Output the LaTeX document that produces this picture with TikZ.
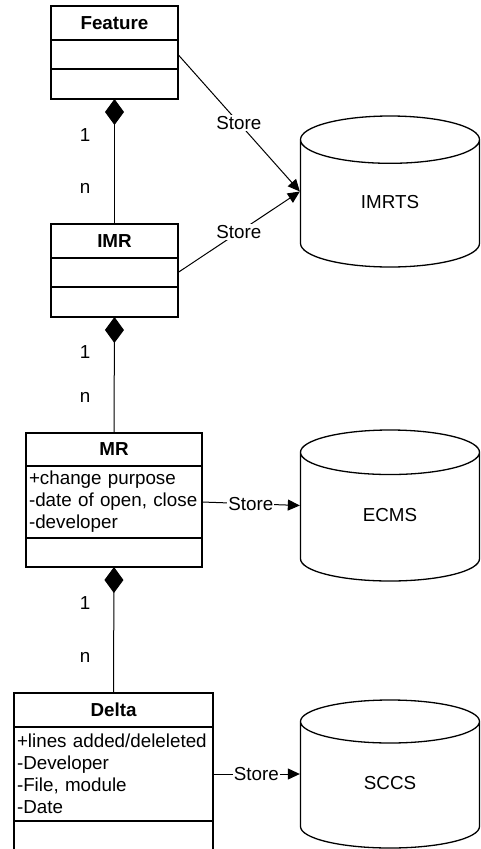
\documentclass[tikz,border=0pt]{standalone}
\usepackage{fontspec}
\setmainfont{Liberation Sans}
\usetikzlibrary{positioning,shapes.geometric,arrows.meta}

\newcommand{\umlfont}{\fontsize{18.8pt}{22pt}\selectfont}

\tikzstyle{chead}=[draw, line width=1.3pt, inner sep=0pt, outer sep=0pt, minimum height=34pt, font=\umlfont\bfseries]
\tikzstyle{cbody}=[draw, line width=1.3pt, inner xsep=3pt, inner ysep=0pt, outer sep=0pt, align=left, font=\umlfont]
\tikzstyle{store}=[cylinder, shape border rotate=90, draw, line width=1.3pt, aspect=0.73, anchor=shape center, minimum width=179pt, minimum height=151pt, text depth=10pt, font=\umlfont]
\tikzstyle{comp}=[line width=1pt, {Diamond[length=26pt,width=19pt]}-]
\tikzstyle{save}=[line width=1pt, -{Triangle[length=12pt,width=11pt]}]
\tikzstyle{tag}=[fill=white, inner sep=1pt, font=\umlfont]
\tikzstyle{mult}=[inner sep=0pt, font=\umlfont]

\begin{document}
\begin{tikzpicture}[x=1pt,y=-1pt]
        \useasboundingbox (0,0) rectangle (481,849);
        \clip (0,0) rectangle (481,849);

        % classes
        \draw (114.5,23) node[chead,minimum width=127pt](feature){Feature};
        \node[cbody,below=0pt of feature,minimum width=127pt,minimum height=29pt](feature-a){};
        \node[cbody,below=0pt of feature-a,minimum width=127pt,minimum height=30pt](feature-m){};

        \draw (114.5,241) node[chead,minimum width=127pt](imr){IMR};
        \node[cbody,below=0pt of imr,minimum width=127pt,minimum height=29pt](imr-a){};
        \node[cbody,below=0pt of imr-a,minimum width=127pt,minimum height=30pt](imr-m){};

        \draw (114,449.5) node[chead,minimum width=176pt,minimum height=33pt](mr){MR};
        \node[cbody,below=0pt of mr,text width=170pt,minimum height=72pt](mr-a){+change purpose\\-date of open, close\\-developer};
        \node[cbody,below=0pt of mr-a,minimum width=176pt,minimum height=29pt](mr-m){};

        \draw (113.5,710) node[chead,minimum width=199pt](delta){Delta};
        \node[cbody,below=0pt of delta,text width=193pt,minimum height=94pt](delta-a){+lines added/deleleted\\-Developer\\-File, module\\-Date};
        \node[cbody,below=0pt of delta-a,minimum width=199pt,minimum height=29pt](delta-m){};

        % stores
        \draw (390,191.5) node[store](imrts){IMRTS};
        \draw (390,505.5) node[store](ecms){ECMS};
        \draw (390,774) node[store,minimum height=148pt](sccs){SCCS};

        % multiplicities
        \draw (85,135) node[mult](f1){1};
        \draw (85,188) node[mult](fn){n};
        \draw (85,352) node[mult](i1){1};
        \draw (85,397) node[mult](in){n};
        \draw (85,603) node[mult](m1){1};
        \draw (85,657) node[mult](mn){n};
        %
        \path
            (feature-m.south)   edge[comp]                      (imr.north)
            (imr-m.south)       edge[comp]                      (mr.north)
            (mr-m.south)        edge[comp]                      (delta.north)
            (feature-a.east)    edge[save]  node[tag]{Store}    (imrts.west |- imrts.shape center)
            (imr-a.east)        edge[save]  node[tag]{Store}    (imrts.west |- imrts.shape center)
            (mr-a.east)         edge[save]  node[tag]{Store}    (ecms.west |- ecms.shape center)
            (delta-a.east)      edge[save]  node[tag]{Store}    (sccs.west |- sccs.shape center)
        ;
\end{tikzpicture}
\end{document}
